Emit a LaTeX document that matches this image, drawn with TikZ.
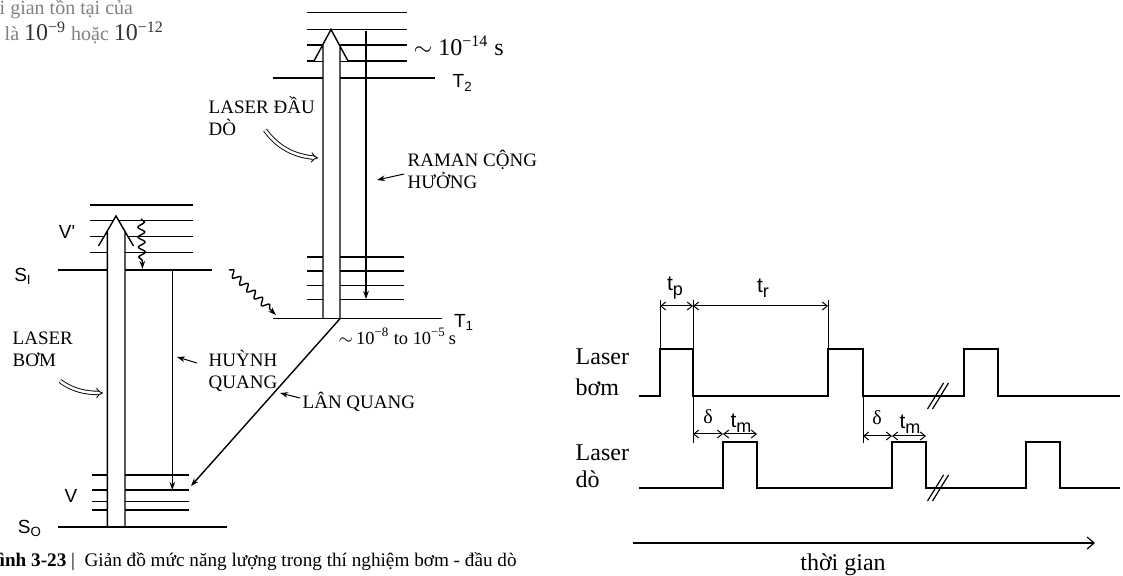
\documentclass[tikz,border=0pt]{standalone}
\usepackage{fontspec}
\setmainfont{Liberation Serif}
\newfontfamily\sansfam{Liberation Sans}
\newcommand{\lowsub}[1]{\raisebox{-0.45ex}{\fontsize{9}{10}\selectfont #1}}
\usetikzlibrary{arrows.meta,decorations.pathmorphing}

\begin{document}
\begin{tikzpicture}[x=0.5pt, y=-0.5pt, line width=0.7pt, >={Stealth[length=4pt,width=2.8pt]},
    lbl/.style={anchor=west, inner sep=0pt, align=left, font=\fontsize{9.5}{11}\selectfont},
    sym/.style={inner sep=0pt, font=\sansfam\fontsize{9.5}{11}\selectfont},
    tag/.style={inner sep=0pt, font=\sansfam\fontsize{10.5}{12}\selectfont},
    big/.style={anchor=west, inner sep=0pt, align=left, font=\fontsize{12}{15.5}\selectfont},
    wave/.style={->, decorate, decoration={snake, amplitude=1.7pt, segment length=5pt, post length=3pt}},
    hollow/.style={double, double distance=1.3pt, line width=0.45pt, -{Implies}},
    sig/.style={line width=1.1pt},
    dim/.style={line width=0.5pt, {Straight Barb[length=2.5pt,width=4pt]}-{Straight Barb[length=2.5pt,width=4pt]}}]
  \useasboundingbox (0,0) rectangle (1123,576);

  % fragment of the text above the figure
  \node[lbl, text=gray, font=\fontsize{10}{12}\selectfont] (frag1) at (-1,9) {i gian tồn tại của};
  \node[lbl, text=gray, font=\fontsize{10}{12}\selectfont] (frag2) at (4,33) {là \textcolor{black!80}{\fontsize{12}{14}\selectfont 10\textsuperscript{−9}} hoặc \textcolor{black!80}{\fontsize{12}{14}\selectfont 10\textsuperscript{−12}}};

  % energy levels
  \foreach \y in {12.7,29.3,45,61} \draw (307,\y) -- (407,\y);
  \draw (273,78) -- (435,78);
  \foreach \y in {257,271,285.7,299.3} \draw (307,\y) -- (404,\y);
  \foreach \y in {205,220.7,236.7,252.7} \draw (90,\y) -- (193,\y);
  \draw (58,270) -- (212,270);
  \foreach \y in {475,490,501.7,510} \draw (92,\y) -- (189,\y);

  % probe and pump beams
  \fill[white] (323,318.7) -- (323,61) -- (314,61) -- (331,29.5) -- (348,61) -- (340,61) -- (340,318.7) -- cycle;
  \draw (314,61) -- (331,29.5) -- (348,61) (323,318.7) -- (323,44.3) (340,318.7) -- (340,46.2);
  \fill[white] (107.3,527) -- (107.3,246) -- (98.5,246) -- (116,216) -- (133.5,246) -- (125,246) -- (125,527) -- cycle;
  \draw (98.5,246) -- (116,216) -- (133.5,246) (107.3,527) -- (107.3,230.9) (125,527) -- (125,231.4);
  \draw (273,318.7) -- (442,318.7);
  \draw (58,527) -- (227,527);

  \coordinate (ramtop) at (366,31);
  \coordinate (rambot) at (366,299);
  \coordinate (s1fl) at (172.3,270);
  \coordinate (vfl) at (172.3,490);
  \coordinate (t1ph) at (340,318.7);
  \coordinate (vph) at (191,486);
  \draw[->] (ramtop) -- (rambot);
  \draw[->] (s1fl) -- (vfl);
  \draw[->] (t1ph) -- (vph);
  \draw[wave] (141,219) -- (142.5,269);
  \draw[wave] (229,270) -- (276,315);

  \node[sym] (vprime) at (67,232) {V'};
  \node[sym] (s1) at (23,276) {S\textsubscript{I}};
  \node[sym] (v) at (71,496) {V};
  \node[sym] (s0) at (30,528) {S\textsubscript{O}};
  \node[sym, anchor=west] (t2) at (452,83) {T\textsubscript{2}};
  \node[sym] (t1) at (464,322) {T\textsubscript{1}};
  \node[anchor=west, inner sep=0pt, font=\fontsize{12}{14}\selectfont] (fast) at (413,46) {$\sim$ 10\textsuperscript{−14} s};
  \node[anchor=west, inner sep=0pt, font=\fontsize{9.2}{11}\selectfont] (slow) at (338,336) {$\sim$\,10\textsuperscript{−8} to 10\textsuperscript{−5}\,s};

  \node[lbl] (probe) at (208,116) {LASER ĐẦU\\DÒ};
  \draw[hollow] (265,130) .. controls (278,148) and (295,156) .. (318,158);
  \node[lbl] (pump) at (12,349) {LASER\\BƠM};
  \draw[hollow] (60,381) .. controls (72,390) and (85,393) .. (103,393);
  \node[lbl] (raman) at (407,169) {RAMAN CỘNG\\HƯỞNG};
  \draw[->, line width=0.5pt] (404,174) -- (377,180);
  \node[lbl] (fluo) at (208,371) {HUỲNH\\QUANG};
  \draw[->, line width=0.5pt] (197,363) -- (177,357);
  \node[lbl] (phos) at (302,402) {LÂN QUANG};
  \draw[->, line width=0.5pt] (300,398) -- (280,393);

  \node[anchor=west, inner sep=0pt, font=\fontsize{9.6}{11}\selectfont] (cap) at (-1,562) {\textbf{ình 3-23} |\ \ Giản đồ mức năng lượng trong thí nghiệm bơm - đầu dò};

  % timing diagram
  \node[big] (pumplbl) at (575,372) {Laser\\bơm};
  \node[big, font=\fontsize{12}{13.5}\selectfont] (probelbl) at (575,466) {Laser\\dò};
  \draw[sig] (639,396) -- (660,396) -- (660,349) -- (693,349) -- (693,396) -- (828,396) -- (828,349) -- (863,349) -- (863,396) -- (964,396) -- (964,349) -- (998,349) -- (998,396) -- (1120,396);
  \draw[sig] (639,488) -- (723,488) -- (723,442) -- (757,442) -- (757,488) -- (892,488) -- (892,442) -- (926,442) -- (926,488) -- (1026,488) -- (1026,442) -- (1060,442) -- (1060,488) -- (1120,488);
  \foreach \y in {396,488} \foreach \dx in {-2.5,2.5} \draw[line width=0.6pt] (930+\dx,\y+13) -- (946+\dx,\y-13);
  \draw[line width=0.5pt] (660,349) -- (660,300) (693,300) -- (693,443) (828,349) -- (828,300) (863,396) -- (863,443);

  \coordinate (a1) at (660,306);
  \coordinate (a2) at (693,306);
  \coordinate (a3) at (828,306);
  \coordinate (b1) at (693,434);
  \coordinate (b2) at (723,434);
  \coordinate (b3) at (757,434);
  \coordinate (c1) at (863,436);
  \coordinate (c2) at (892,436);
  \coordinate (c3) at (926,436);
  \draw[dim] (a1) -- (a2);
  \draw[dim] (a2) -- (a3);
  \draw[dim] (b1) -- (b2);
  \draw[dim] (b2) -- (b3);
  \draw[dim] (c1) -- (c2);
  \draw[dim] (c2) -- (c3);
  \node[tag] (tp) at (675,288) {t\lowsub{p}};
  \node[tag] (tr) at (763,288) {t\lowsub{r}};
  \node[tag, font=\fontsize{10}{12}\selectfont] (d1) at (708,417) {δ};
  \node[tag] (tm1) at (741,423) {t\lowsub{m}};
  \node[tag, font=\fontsize{10}{12}\selectfont] (d2) at (877,418) {δ};
  \node[tag] (tm2) at (910,424) {t\lowsub{m}};

  \coordinate (t0) at (633,543);
  \coordinate (tend) at (1095,543);
  \draw[line width=0.6pt, -{Straight Barb[length=3.5pt,width=6pt]}] (t0) -- (tend);
  \node[font=\fontsize{12}{14}\selectfont] (time) at (843,565) {thời gian};
\end{tikzpicture}
\end{document}
